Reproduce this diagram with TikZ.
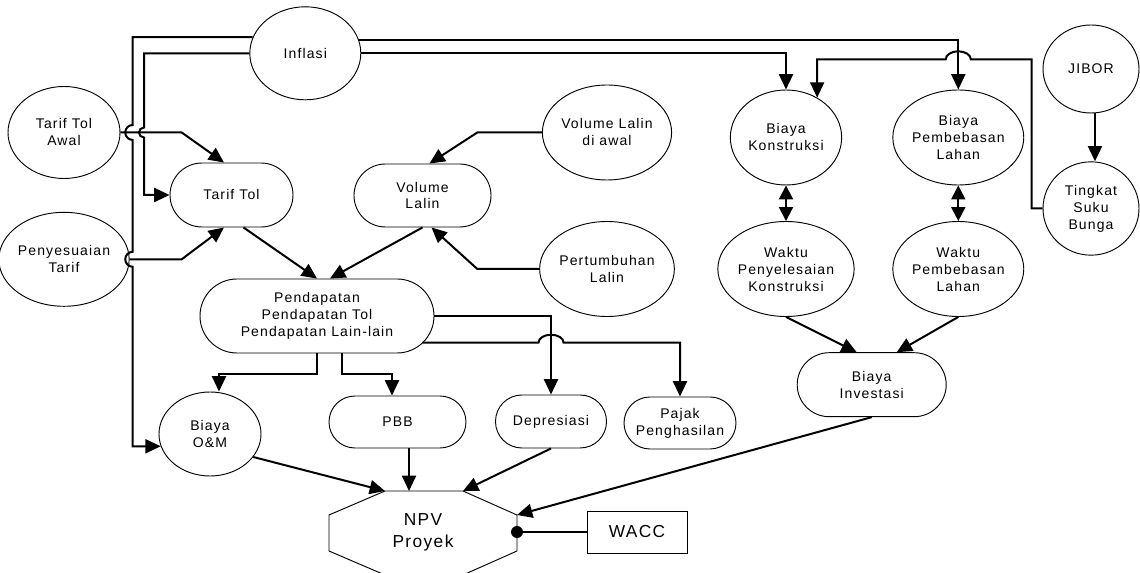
\documentclass[tikz,border=0pt]{standalone}
\usepackage{fontspec}
\setmainfont{Liberation Sans}[LetterSpace=8]
\usetikzlibrary{shapes.geometric,arrows.meta,calc}
\begin{document}
\begin{tikzpicture}[x=0.75pt,y=-0.75pt,
  every node/.style={inner sep=0pt, align=center, font=\fontsize{10.5}{12.75}\selectfont},
  ell/.style={ellipse, draw, line width=0.7pt, minimum width=83.5pt, minimum height=71.25pt},
  rbox/.style={rectangle, draw, line width=0.7pt, rounded corners=#1},
  conn/.style={line width=1.5pt, -{Triangle[length=11.5pt,width=10.5pt]}},
  dbl/.style={line width=1.5pt, {Triangle[length=10.5pt,width=10.5pt]}-{Triangle[length=10.5pt,width=10.5pt]}},
  wire/.style={line width=1pt},
  bigtext/.style={font=\fontsize{13}{16.5}\selectfont}
]
\fill[white] (0,0) rectangle (1140,573);
\useasboundingbox (0,0) rectangle (1140,573);

% nodes
\node[ell, minimum width=83.25pt, minimum height=69.75pt] (inf) at (305.3,53.3) {Inflasi};
\node[ell, minimum width=84pt, minimum height=69pt] (tta) at (64,132.5) {Tarif Tol\\Awal};
\node[ell, minimum width=84pt, minimum height=70.5pt] (ps) at (64,259.3) {Penyesuaian\\Tarif};
\node[rbox=24pt, minimum width=92.25pt, minimum height=48pt] (tt) at (231.5,195) {Tarif Tol};
\node[rbox=23.6pt, minimum width=102.75pt, minimum height=47.25pt] (vl) at (422.5,195.5) {Volume\\Lalin};
\node[ell] (va) at (607,132.5) {Volume Lalin\\di awal};
\node[ell] (pl) at (607,269) {Pertumbuhan\\Lalin};
\node[rbox=27.7pt, minimum width=175.5pt, minimum height=55.5pt] (pd) at (317,316) {Pendapatan\\Pendapatan Tol\\Pendapatan Lain-lain};
\node[ell, minimum width=76.5pt, minimum height=63pt] (om) at (210,434) {Biaya\\O\&M};
\node[rbox=19.5pt, minimum width=102.75pt, minimum height=39pt] (pbb) at (397.5,422) {PBB};
\node[rbox=19.8pt, minimum width=83.25pt, minimum height=39.75pt] (dp) at (551,421.5) {Depresiasi};
\node[rbox=19.5pt, minimum width=84pt, minimum height=39pt] (pj) at (680,423) {Pajak\\Penghasilan};
\node[ell] (bk) at (786,137.5) {Biaya\\Konstruksi};
\node[ell] (bpl) at (958.3,137.5) {Biaya\\Pembebasan\\Lahan};
\node[ell] (wpk) at (786,269) {Waktu\\Penyelesaian\\Konstruksi};
\node[ell] (wpl) at (958.3,269) {Waktu\\Pembebasan\\Lahan};
\node[ell, minimum width=72pt, minimum height=66pt] (jb) at (1091,69) {JIBOR};
\node[ell, minimum width=72pt, minimum height=70pt] (tsb) at (1091,208.5) {Tingkat\\Suku\\Bunga};
\node[rbox=24pt, minimum width=111.75pt, minimum height=48pt] (bi) at (871.7,384.7) {Biaya\\Investasi};
\node[draw, line width=0.7pt, minimum width=75pt, minimum height=31.5pt, bigtext] (wacc) at (637,532) {WACC};

% octagon NPV
\coordinate (o1) at (385,491);
\coordinate (o2) at (463,491);
\coordinate (o3) at (517,515);
\coordinate (o4) at (517,551);
\coordinate (o5) at (463,575);
\coordinate (o6) at (385,575);
\coordinate (o7) at (329,551);
\coordinate (o8) at (329,515);
\draw[line width=0.7pt] (o1) -- (o2) -- (o3) -- (o4) -- (o5) -- (o6) -- (o7) -- (o8) -- cycle;
\node[bigtext] (npv) at (423,532) {NPV\\Proyek};

% connectors
\draw[conn] (inf.163) -| (132.7,125)
  arc[start angle=90,end angle=270,radius=5.6pt] -- (132.7,251.8)
  arc[start angle=90,end angle=270,radius=5.6pt] -- (132.7,0 |- om.194) -- (om.194);
\draw[conn] (inf.west) -| (144,127.5)
  arc[start angle=90,end angle=270,radius=3.75pt] -- (144,0 |- tt.west) -- (tt.west);
\draw[conn] (tta.east) -- (181.7,0 |- tta.east) -- ($(tt.north)+(-7.5,0)$);
\draw[conn] (ps.east) -- (181.7,0 |- ps.east) -- ($(tt.south)+(-7.5,0)$);
\draw[conn] ($(tt.south)+(12,0)$) -- (pd.north);
\draw[conn] (vl.south) -- ($(pd.north)+(13,0)$);
\draw[conn] (va.west) -- (477.3,0 |- va.west) -- ($(vl.north)+(7,0)$);
\draw[conn] (pl.west) -- (477.3,0 |- pl.west) -- ($(vl.south)+(9,0)$);
\draw[conn] (pd.south) -- ++(0,21) -| ($(om.north)+(9,0)$);
\draw[conn] ($(pd.south)+(25,0)$) -- ++(0,21) -| ($(pbb.north)+(-5.5,0)$);
\draw[conn] (pd.east) -| (dp.north);
\coordinate (pjs) at ($(pd.east)+(-12,26.7)$);
\draw[conn] (pjs) -- (538.5,0 |- pjs)
  arc[start angle=180,end angle=0,x radius=9.4pt,y radius=6pt] -| (pj.north);
\draw[conn] (dp.south) -- (o2);
\coordinate (pbbo) at ($(pbb.south)+(11.5,0)$);
\draw[conn] (pbbo) -- (pbbo |- o1);
\draw[conn] (om.-28) -- (o1);
\draw[conn] (bi.south) -- (o3);
\coordinate (dot) at (o3 |- wacc.west);
\draw[wire] (wacc.west) -- (dot);
\fill (dot) circle[radius=4.5pt];
\draw[conn] (inf.east) -| (bk.north);
\draw[conn] (inf.14) -| (bpl.north);
\draw[conn] (tsb.west) -- (1031.7,0 |- tsb.west) -- (1031.7,59.3) -- (970.8,59.3)
  arc[start angle=0,end angle=180,x radius=9.4pt,y radius=6pt] -| (bk.52);
\draw[conn] ($(jb.south)+(4,0)$) -- ($(tsb.north)+(4,0)$);
\draw[dbl] (bk.south) -- (wpk.north);
\draw[dbl] (bpl.south) -- (wpl.north);
\draw[conn] (wpk.south) -- ($(bi.north)+(-15,0)$);
\draw[conn] (wpl.south) -- ($(bi.north)+(25,0)$);
\end{tikzpicture}
\end{document}
